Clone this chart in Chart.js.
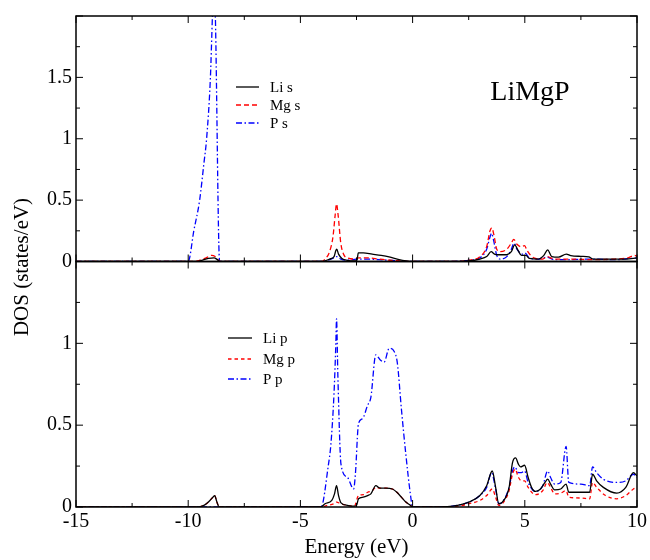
<!DOCTYPE html>
<html>
<head>
<meta charset="utf-8">
<script src="https://cdn.jsdelivr.net/npm/chart.js@4"></script>
<style>
  html, body { margin: 0; padding: 0; background: #fff; }
  #wrap { width: 650px; height: 560px; }
</style>
</head>
<body>
<div id="wrap"><canvas id="dos"></canvas></div>
<script>
// energy grid and values (eV, states/eV)
const liS_E = [-15, -9.6, -9.4, -9.1, -8.85, -8.7, -8.6, -4.0, -3.7, -3.5, -3.42, -3.38, -3.3, -3.15, -2.9, -2.6, -2.48, -2.42, -2.2, -1.8, -1.4, -1.0, -0.6, -0.3, 0, 1.5, 2.5, 3.0, 3.3, 3.5, 3.65, 3.8, 4.2, 4.4, 4.55, 4.7, 4.85, 5.05, 5.2, 5.6, 5.85, 6.02, 6.2, 6.5, 6.85, 7.05, 7.5, 7.85, 8.05, 8.8, 9.5, 10];
const liS_D = [0, 0, 0.01, 0.025, 0.03, 0.015, 0, 0, 0.02, 0.04, 0.09, 0.1, 0.06, 0.025, 0.01, 0.005, 0.01, 0.07, 0.07, 0.06, 0.05, 0.035, 0.015, 0.005, 0, 0, 0.005, 0.02, 0.04, 0.08, 0.06, 0.055, 0.055, 0.08, 0.135, 0.09, 0.05, 0.05, 0.025, 0.02, 0.05, 0.095, 0.04, 0.035, 0.06, 0.048, 0.042, 0.038, 0.02, 0.02, 0.02, 0.03];

const mgS_E = [-15, -9.7, -9.5, -9.2, -8.95, -8.8, -8.65, -8.6, -4.05, -3.9, -3.7, -3.55, -3.45, -3.39, -3.32, -3.2, -3.05, -2.9, -2.6, -2.4, -2.0, -1.5, -1.0, -0.5, 0, 1.6, 2.5, 3.0, 3.3, 3.45, 3.53, 3.62, 3.75, 3.9, 4.2, 4.4, 4.51, 4.65, 4.85, 4.99, 5.1, 5.4, 5.8, 6.0, 6.3, 7, 8, 9, 9.6, 9.9, 10];
const mgS_D = [0, 0, 0.01, 0.03, 0.05, 0.04, 0.01, 0, 0, 0.02, 0.08, 0.2, 0.38, 0.47, 0.38, 0.15, 0.05, 0.03, 0.02, 0.03, 0.03, 0.02, 0.01, 0.005, 0, 0, 0.01, 0.04, 0.12, 0.25, 0.275, 0.22, 0.1, 0.08, 0.1, 0.15, 0.18, 0.14, 0.12, 0.13, 0.09, 0.03, 0.02, 0.04, 0.02, 0.02, 0.015, 0.02, 0.03, 0.05, 0.04];

const pS_E = [-15, -10.0, -9.75, -9.49, -9.3, -9.18, -9.01, -8.92, -8.85, -8.79, -8.6, -4.05, -3.8, -3.5, -3.39, -3.2, -2.9, -2.5, -2.0, -1.5, -1, -0.5, 0, 1.4, 2.5, 3.0, 3.3, 3.45, 3.52, 3.6, 3.75, 3.9, 4.2, 4.4, 4.52, 4.65, 4.9, 5.0, 5.2, 5.6, 6.0, 6.3, 7, 8, 9, 10];
const pS_D = [0, 0, 0.25, 0.5, 0.8, 1.0, 1.5, 2.0, 2.3, 2.0, 0, 0, 0.01, 0.03, 0.04, 0.02, 0.01, 0.02, 0.02, 0.015, 0.01, 0.005, 0, 0, 0.01, 0.03, 0.1, 0.2, 0.23, 0.18, 0.05, 0.02, 0.04, 0.1, 0.15, 0.1, 0.06, 0.07, 0.03, 0.02, 0.035, 0.015, 0.015, 0.02, 0.015, 0.03];

const liP_E = [-15, -9.6, -9.3, -9.1, -8.9, -8.82, -8.72, -8.62, -4.1, -3.9, -3.6, -3.48, -3.39, -3.3, -3.19, -2.9, -2.6, -2.5, -2.41, -2.2, -2.0, -1.86, -1.64, -1.45, -1.2, -0.9, -0.7, -0.5, -0.3, -0.1, 0, 1.0, 2.0, 2.51, 3.0, 3.3, 3.55, 3.7, 3.84, 4.0, 4.3, 4.45, 4.59, 4.72, 4.81, 4.99, 5.15, 5.3, 5.47, 5.7, 5.9, 6.02, 6.15, 6.33, 6.6, 6.84, 6.96, 7.5, 7.89, 8.02, 8.2, 8.5, 9.1, 9.5, 9.84, 10];
const liP_D = [0, 0, 0.01, 0.03, 0.06, 0.07, 0.03, 0, 0, 0.02, 0.04, 0.08, 0.13, 0.07, 0.025, 0.01, 0.005, 0.01, 0.05, 0.06, 0.07, 0.08, 0.13, 0.115, 0.115, 0.11, 0.09, 0.06, 0.03, 0.01, 0, 0, 0.01, 0.03, 0.07, 0.13, 0.22, 0.12, 0.02, 0.03, 0.12, 0.27, 0.3, 0.26, 0.245, 0.255, 0.18, 0.12, 0.095, 0.11, 0.15, 0.17, 0.14, 0.105, 0.11, 0.14, 0.09, 0.09, 0.09, 0.2, 0.16, 0.12, 0.085, 0.12, 0.21, 0.19];

const mgP_E = [-15, -9.6, -9.3, -9.1, -8.9, -8.82, -8.72, -8.62, -4.1, -3.8, -3.5, -3.39, -3.2, -2.9, -2.6, -2.41, -2.2, -2.0, -1.8, -1.64, -1.45, -1.2, -0.9, -0.7, -0.5, -0.3, -0.1, 0, 1.0, 2.0, 2.51, 3.0, 3.3, 3.55, 3.7, 3.84, 4.0, 4.3, 4.45, 4.57, 4.72, 4.85, 4.99, 5.15, 5.47, 5.8, 6.0, 6.15, 6.33, 6.6, 6.84, 6.96, 7.5, 7.89, 8.02, 8.2, 8.6, 9.1, 9.5, 9.84, 10];
const mgP_D = [0, 0, 0.01, 0.03, 0.06, 0.07, 0.03, 0, 0, 0.01, 0.02, 0.03, 0.02, 0.01, 0.005, 0.07, 0.075, 0.09, 0.1, 0.12, 0.115, 0.115, 0.11, 0.09, 0.06, 0.03, 0.01, 0, 0, 0.005, 0.02, 0.04, 0.07, 0.11, 0.06, 0.01, 0.02, 0.1, 0.2, 0.23, 0.18, 0.16, 0.16, 0.12, 0.075, 0.1, 0.15, 0.12, 0.08, 0.085, 0.1, 0.06, 0.055, 0.05, 0.15, 0.12, 0.07, 0.05, 0.07, 0.11, 0.12];

const pP_E = [-15, -4.08, -3.76, -3.64, -3.5, -3.42, -3.39, -3.33, -3.19, -2.9, -2.63, -2.55, -2.41, -2.23, -2.01, -1.86, -1.64, -1.45, -1.27, -1.04, -0.82, -0.68, -0.5, -0.3, -0.1, 0, 1.0, 2.0, 2.51, 3.0, 3.3, 3.52, 3.7, 3.84, 4.0, 4.3, 4.45, 4.55, 4.72, 4.85, 4.99, 5.15, 5.47, 5.8, 6.02, 6.15, 6.33, 6.6, 6.84, 6.96, 7.5, 7.89, 8.02, 8.2, 8.5, 9.1, 9.5, 9.84, 10];
const pP_D = [0, 0, 0.25, 0.385, 0.7, 1.0, 1.15, 0.8, 0.26, 0.18, 0.11, 0.2, 0.51, 0.54, 0.62, 0.67, 0.93, 0.9, 0.885, 0.97, 0.95, 0.88, 0.6, 0.32, 0.08, 0, 0, 0.01, 0.03, 0.07, 0.12, 0.21, 0.11, 0.02, 0.03, 0.12, 0.22, 0.245, 0.21, 0.21, 0.22, 0.15, 0.095, 0.13, 0.22, 0.18, 0.14, 0.15, 0.37, 0.15, 0.14, 0.13, 0.245, 0.21, 0.17, 0.15, 0.16, 0.2, 0.18];

const xTicks = [-15, -10, -5, 0, 5, 10];
const SERIF = '"Liberation Serif", "Times New Roman", serif';

function pts(xs, ys) { return xs.map((x, i) => ({x: x, y: ys[i]})); }

function series(label, xs, ys, color, dash, axis) {
    return {label: label, data: pts(xs, ys), borderColor: color, borderWidth: 1.3, borderDash: dash,
        pointRadius: 0, fill: false, cubicInterpolationMode: 'monotone', yAxisID: axis};
}

const datasets = [
    series('Li s', liS_E, liS_D, '#000000', [], 'yTop'),
    series('Mg s', mgS_E, mgS_D, '#ff0000', [5, 3], 'yTop'),
    series('P s', pS_E, pS_D, '#0000ff', [6, 2.5, 1.5, 2.5], 'yTop'),
    series('Li p', liP_E, liP_D, '#000000', [], 'yBot'),
    series('Mg p', mgP_E, mgP_D, '#ff0000', [3.5, 3], 'yBot'),
    series('P p', pP_E, pP_D, '#0000ff', [6, 2.5, 1.5, 2.5], 'yBot')
];

// frame, inward ticks, legends and labels
const decor = {
    id: 'decor',
    afterDatasetsDraw(chart) {
        const ctx = chart.ctx;
        const xs = chart.scales.x;
        ctx.save();
        ctx.strokeStyle = '#000';
        ctx.lineWidth = 1.5;
        ['yTop', 'yBot'].forEach(id => {
            const ys = chart.scales[id];
            const top = ys.top, bot = ys.bottom, l = xs.left, r = xs.right;
            ctx.strokeRect(l, top, r - l, bot - top);
            ctx.lineWidth = 1;
            ctx.beginPath();
            for (let v = -15; v <= 10.001; v += 2.5) {
                const px = xs.getPixelForValue(v);
                const len = Math.abs(v % 5) < 0.01 ? 7 : 4;
                ctx.moveTo(px, bot); ctx.lineTo(px, bot - len);
                ctx.moveTo(px, top); ctx.lineTo(px, top + len);
            }
            for (let v = 0; v <= ys.max + 0.001; v += 0.25) {
                const py = ys.getPixelForValue(v);
                const len = Math.abs((v / 0.5) - Math.round(v / 0.5)) < 0.01 ? 7 : 4;
                ctx.moveTo(l, py); ctx.lineTo(l + len, py);
                ctx.moveTo(r, py); ctx.lineTo(r - len, py);
            }
            ctx.stroke();
            ctx.lineWidth = 1.5;
        });

        const legends = [
            {sets: [0, 1, 2], x0: 236, x1: 259, tx: 270, rows: [87, 105, 123]},
            {sets: [3, 4, 5], x0: 228, x1: 252, tx: 263, rows: [338, 359, 379]}
        ];
        ctx.font = '15px ' + SERIF;
        ctx.textBaseline = 'middle';
        ctx.fillStyle = '#000';
        legends.forEach(lg => {
            lg.sets.forEach((di, k) => {
                const ds = chart.data.datasets[di];
                const y = lg.rows[k];
                ctx.strokeStyle = ds.borderColor;
                ctx.lineWidth = ds.borderWidth;
                ctx.setLineDash(ds.borderDash);
                ctx.beginPath(); ctx.moveTo(lg.x0, y); ctx.lineTo(lg.x1, y); ctx.stroke();
                ctx.setLineDash([]);
                ctx.fillText(ds.label, lg.tx, y + 1);
            });
        });

        ctx.font = '28px ' + SERIF;
        ctx.textAlign = 'center';
        ctx.textBaseline = 'alphabetic';
        ctx.fillText('LiMgP', 530, 100);

        ctx.font = '21px ' + SERIF;
        ctx.save();
        ctx.translate(22, 267);
        ctx.rotate(-Math.PI / 2);
        ctx.textBaseline = 'middle';
        ctx.fillText('DOS (states/eV)', 0, 0);
        ctx.restore();
        ctx.restore();
    }
};

const tickFont = {family: SERIF, size: 20};

new Chart(document.getElementById('dos'), {
    type: 'line',
    data: {datasets: datasets},
    options: {
        responsive: true,
        maintainAspectRatio: false,
        animation: false,
        layout: {padding: {left: 16, right: 12, top: 12, bottom: 0}},
        plugins: {legend: {display: false}, tooltip: {enabled: false}},
        scales: {
            x: {
                type: 'linear', min: -15, max: 10,
                afterBuildTicks: s => { s.ticks = xTicks.map(v => ({value: v})); },
                ticks: {font: tickFont, color: '#000', padding: 3, maxRotation: 0},
                grid: {display: false, drawTicks: false},
                border: {display: false},
                title: {display: true, text: 'Energy (eV)', font: {family: SERIF, size: 21}, color: '#000', padding: {top: 2, bottom: 0}},
                afterFit: s => { s.height = 53; }
            },
            yBot: {
                type: 'linear', position: 'left', stack: 'dos', stackWeight: 1, min: 0, max: 1.5,
                ticks: {stepSize: 0.5, font: tickFont, color: '#000', padding: 4, callback: v => v >= 1.5 ? '' : String(v)},
                grid: {display: false, drawTicks: false},
                border: {display: false},
                afterFit: s => { s.width = 60; }
            },
            yTop: {
                type: 'linear', position: 'left', stack: 'dos', stackWeight: 1, min: 0, max: 2,
                ticks: {stepSize: 0.5, font: tickFont, color: '#000', padding: 4, callback: v => v >= 2 ? '' : String(v)},
                grid: {display: false, drawTicks: false},
                border: {display: false},
                afterFit: s => { s.width = 60; }
            }
        }
    },
    plugins: [decor]
});
</script>
</body>
</html>
